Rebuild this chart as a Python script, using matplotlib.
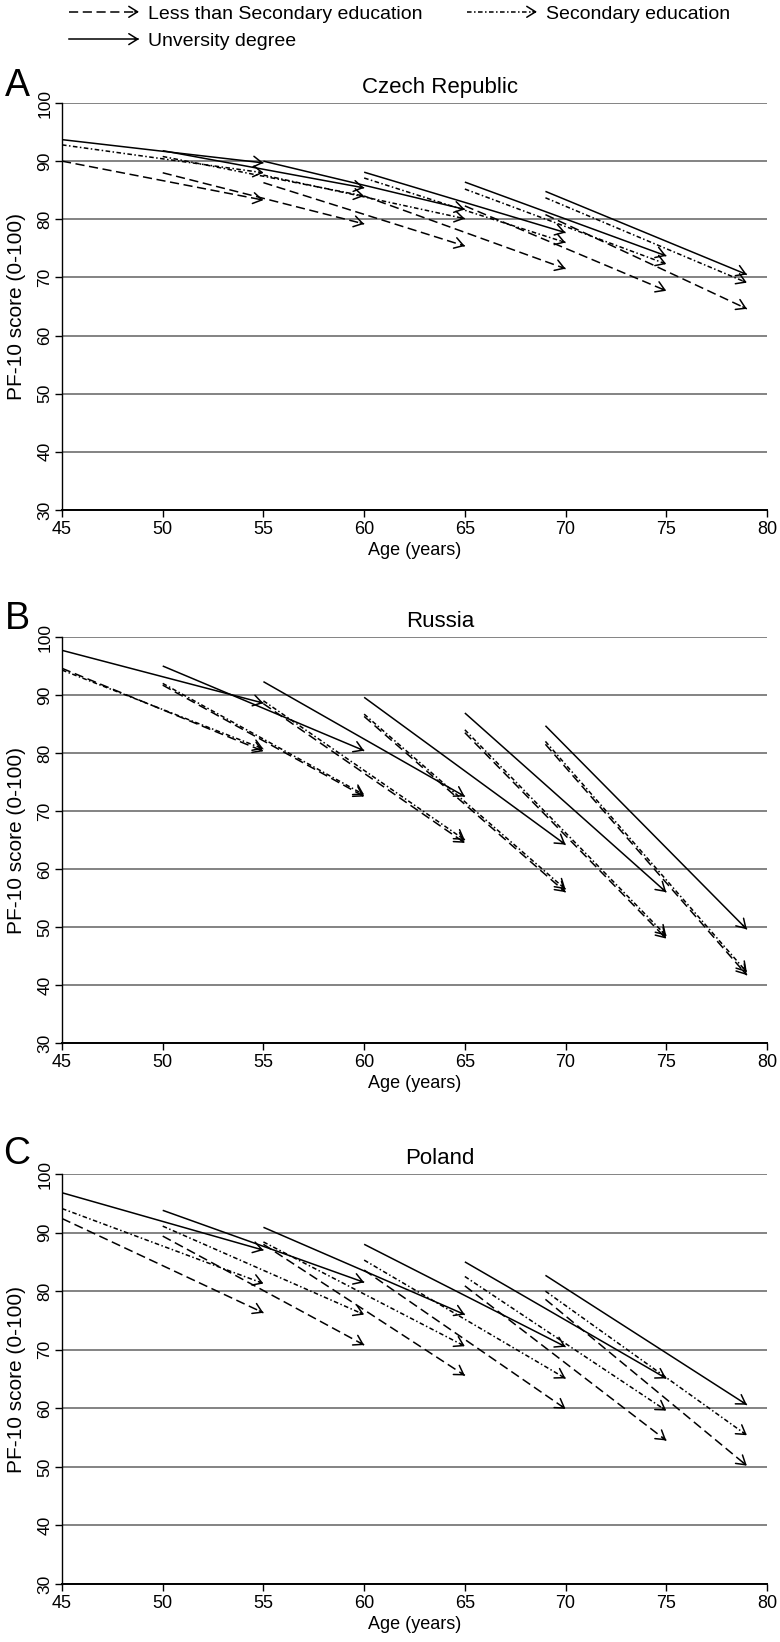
import matplotlib
matplotlib.use('Agg')
import matplotlib.pyplot as plt
from matplotlib.lines import Line2D
from matplotlib.patches import FancyArrowPatch
from matplotlib.legend_handler import HandlerBase

plt.rcParams['font.family'] = ['Liberation Sans', 'DejaVu Sans']

# Cohort start / end ages
age_start = [45, 50, 55, 60, 65, 69]
age_end = [55, 60, 65, 70, 75, 79]

# Czech Republic
cz_less_start = [90.0, 88.0, 86.3, 84.0, 82.3, 80.8]
cz_less_end = [83.3, 79.2, 75.4, 71.5, 67.7, 64.6]
cz_sec_start = [92.8, 90.8, 87.6, 87.1, 85.2, 83.7]
cz_sec_end = [88.0, 84.0, 80.1, 76.0, 72.3, 69.1]
cz_uni_start = [93.7, 91.8, 90.0, 88.1, 86.4, 84.8]
cz_uni_end = [89.7, 85.4, 81.7, 77.7, 73.7, 70.5]

# Russia
ru_less_start = [94.6, 91.7, 88.5, 86.3, 83.5, 81.5]
ru_less_end = [80.3, 72.5, 64.5, 56.0, 48.0, 41.7]
ru_sec_start = [94.3, 92.0, 89.0, 86.7, 84.0, 82.0]
ru_sec_end = [80.7, 72.8, 65.0, 56.5, 48.5, 42.2]
ru_uni_start = [97.7, 95.0, 92.3, 89.6, 86.9, 84.7]
ru_uni_end = [88.6, 80.4, 72.5, 64.2, 56.0, 49.6]

# Poland
pl_less_start = [92.4, 89.4, 88.0, 83.6, 80.9, 78.6]
pl_less_end = [76.3, 70.8, 65.6, 59.9, 54.5, 50.2]
pl_sec_start = [94.1, 91.1, 88.4, 85.3, 82.5, 80.0]
pl_sec_end = [81.3, 76.0, 70.6, 65.1, 59.6, 55.4]
pl_uni_start = [96.8, 93.8, 90.9, 88.0, 85.0, 82.7]
pl_uni_end = [87.0, 81.5, 76.0, 70.5, 65.1, 60.6]

panel_letters = ['A', 'B', 'C']
countries = ['Czech Republic', 'Russia', 'Poland']
labels = ['Less than Secondary education', 'Secondary education', 'Unversity degree']
styles = [(0, (6, 3)), (0, (3, 1.6, 1, 1.6)), '-']

panels = [
    [(cz_less_start, cz_less_end), (cz_sec_start, cz_sec_end), (cz_uni_start, cz_uni_end)],
    [(ru_less_start, ru_less_end), (ru_sec_start, ru_sec_end), (ru_uni_start, ru_uni_end)],
    [(pl_less_start, pl_less_end), (pl_sec_start, pl_sec_end), (pl_uni_start, pl_uni_end)],
]

W, H = 780, 1642
# axes boxes in pixels: (left, top, right, bottom)
boxes = [(62, 103, 767, 510), (62, 637, 767, 1043), (62, 1174, 767, 1584)]
letter_y = [86, 619, 1154]

LW = 1.1
HEAD = '->,head_length=0.45,head_width=0.28'


def draw_arrow(ax, x0, y0, x1, y1, ls):
    ax.plot([x0, x1], [y0, y1], color='black', lw=LW, linestyle=ls,
            solid_capstyle='butt', dash_capstyle='butt')
    # short solid piece at the end carries the head
    xb = x1 - (x1 - x0) * 0.02
    yb = y1 - (y1 - y0) * 0.02
    ax.annotate('', xy=(x1, y1), xytext=(xb, yb),
                arrowprops=dict(arrowstyle=HEAD, color='black', lw=LW,
                                shrinkA=0, shrinkB=0, mutation_scale=14))


class ArrowHandler(HandlerBase):
    def create_artists(self, legend, orig_handle, xdescent, ydescent,
                       width, height, fontsize, trans):
        y = height / 2 - ydescent
        line = Line2D([-xdescent, width - xdescent - 1], [y, y])
        line.update_from(orig_handle)
        line.set_transform(trans)
        head = FancyArrowPatch((width - xdescent - 3, y), (width - xdescent, y),
                               arrowstyle=HEAD, mutation_scale=14,
                               color='black', lw=LW, shrinkA=0, shrinkB=0,
                               transform=trans)
        return [line, head]


fig = plt.figure(figsize=(W / 100, H / 100), dpi=100)

for i in range(3):
    l, t, r, b = boxes[i]
    ax = fig.add_axes([l / W, 1 - b / H, (r - l) / W, (b - t) / H])
    for k in range(3):
        starts, ends = panels[i][k]
        for j in range(len(age_start)):
            draw_arrow(ax, age_start[j], starts[j], age_end[j], ends[j], styles[k])

    ax.set_xlim(45, 80)
    ax.set_ylim(30, 100)
    ax.set_xticks(range(45, 81, 5))
    ax.set_yticks(range(30, 101, 10))
    ax.yaxis.grid(True, color='#7a7a7a', lw=1.3)
    ax.set_axisbelow(True)
    for s in ['top', 'right']:
        ax.spines[s].set_visible(False)
    ax.spines['left'].set_linewidth(1.0)
    ax.spines['bottom'].set_linewidth(1.4)
    ax.tick_params(axis='x', direction='out', length=5, width=1, labelsize=13, pad=3)
    ax.tick_params(axis='y', direction='out', length=5, width=1, labelsize=12.5, pad=2)
    for lab in ax.get_yticklabels():
        lab.set_rotation(90)
        lab.set_va('center')
    ax.set_xlabel('Age (years)', fontsize=13, labelpad=3)
    ax.set_ylabel('PF-10 score (0-100)', fontsize=15, labelpad=8)
    ax.set_title(countries[i], fontsize=16, x=0.536, pad=7)
    fig.text(17 / W, 1 - letter_y[i] / H, panel_letters[i], fontsize=27,
             ha='center', va='center')

handles = [Line2D([], [], color='black', lw=LW, linestyle=st) for st in styles]
order = [0, 2, 1]
fig.legend([handles[o] for o in order], [labels[o] for o in order],
           handler_map={Line2D: ArrowHandler()},
           loc='upper left', bbox_to_anchor=(69 / W, 1 - 5 / H), ncol=2,
           frameon=False, fontsize=14, handlelength=3.6, handletextpad=0.45,
           columnspacing=2.3, labelspacing=0.5, borderpad=0, borderaxespad=0)

fig.savefig('out.png', dpi=100)
